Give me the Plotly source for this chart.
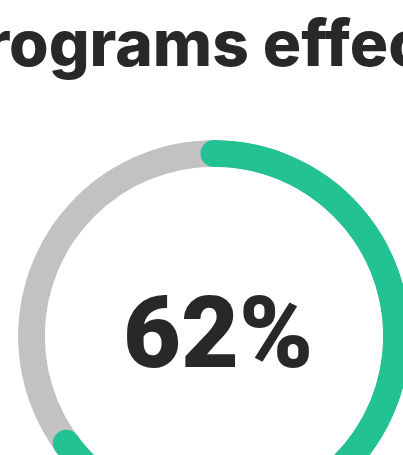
import plotly.graph_objects as go

# ---- data ----
title_text = "Programs effectiveness"
center_label = "62%"
segment_names = ["Effective", "Not effective"]
ring_share = 65          # percent of the ring drawn in green (as measured on the ring)
full_share = 100

green = "#23C293"
grey = "#C2C2C2"
ink = "#282828"

deg_per_pct = 360 / full_share
green_width = ring_share * deg_per_pct

fig = go.Figure()

# grey background ring
fig.add_trace(go.Barpolar(
    r=[1], base=[0], theta=[full_share * deg_per_pct / 2], width=[full_share * deg_per_pct],
    marker=dict(color=grey, line=dict(width=0)), name=segment_names[1],
    hoverinfo="skip", showlegend=False,
))
# green progress arc
fig.add_trace(go.Barpolar(
    r=[1], base=[0], theta=[green_width / 2], width=[green_width],
    marker=dict(color=green, line=dict(width=0)), name=segment_names[0],
    hoverinfo="skip", showlegend=False,
))
# rounded caps at both ends of the green arc
fig.add_trace(go.Scatterpolar(
    r=[0.5, 0.5], theta=[0, green_width], mode="markers",
    marker=dict(color=green, size=27, line=dict(width=0)),
    hoverinfo="skip", showlegend=False, cliponaxis=False,
))

W, H = 428, 532
fig.update_layout(
    width=W, height=H,
    margin=dict(l=18, r=18, t=140, b=0, pad=0),
    paper_bgcolor="white", plot_bgcolor="white",
    showlegend=False,
    title=dict(
        text=title_text, xref="container", yref="container",
        x=0.748, xanchor="center", y=1 - 44 / H, yanchor="middle",
        font=dict(family="Inter", size=64, color=ink, weight=800),
    ),
    polar=dict(
        hole=169 / 196,
        bgcolor="white",
        domain=dict(x=[0, 1], y=[0, 1]),
        radialaxis=dict(range=[0, 1], visible=False, showgrid=False, showline=False, showticklabels=False, ticks=""),
        angularaxis=dict(direction="clockwise", rotation=90, visible=False, showgrid=False,
                         showline=False, showticklabels=False, ticks=""),
    ),
    annotations=[dict(
        text=center_label, x=0.5, y=0.5, xref="paper", yref="paper",
        xanchor="center", yanchor="middle", showarrow=False, yshift=4, xshift=4,
        font=dict(family="Roboto", size=100, color=ink, weight=900),
    )],
)

fig.write_html("out.html", config={"displayModeBar": False},
               post_script="document.body.style.margin='0';document.body.style.overflow='hidden';")
